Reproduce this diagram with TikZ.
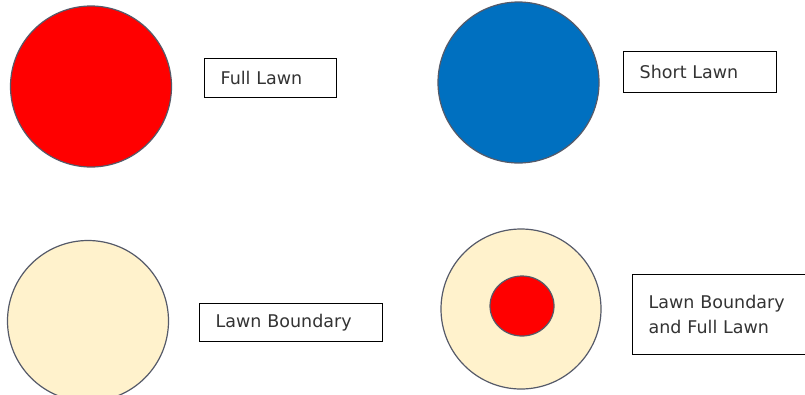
\documentclass[tikz,border=0pt]{standalone}
\usepackage{fontspec}
\setmainfont{DejaVu Sans}
\usetikzlibrary{shapes.geometric}
\definecolor{lawnred}{HTML}{FF0000}
\definecolor{lawnblue}{HTML}{0070C0}
\definecolor{lawnbeige}{HTML}{FFF2CC}
\definecolor{rimcol}{RGB}{85,90,105}
\tikzset{
  disc/.style={circle, draw=rimcol, line width=1.2pt, minimum size=#1, inner sep=0pt},
  labelbox/.style={draw=black, line width=1.3pt, anchor=north west, inner xsep=16pt, inner ysep=0pt,
    align=left, font=\fontsize{17.5}{25}\selectfont, text=black!80},
}
\begin{document}
\begin{tikzpicture}[x=1pt,y=-1pt]
\useasboundingbox (0,0) rectangle (805,394);
\fill[white] (0,0) rectangle (805,394);
% circles
\node[disc=161pt, fill=lawnred] (full) at (91,86.5) {};
\node[disc=161pt, fill=lawnblue] (short) at (518.5,82.5) {};
\node[disc=161pt, fill=lawnbeige] (bound) at (88,321) {};
\node[disc=160pt, fill=lawnbeige] (both) at (521,309) {};
\node[ellipse, draw=rimcol, line width=1.2pt, fill=lawnred, minimum width=64pt, minimum height=60pt, inner sep=0pt] (inner) at (522,306) {};
% label boxes
\node[labelbox, minimum height=39pt, text width=100pt] (lfull) at (204,58) {Full Lawn};
\node[labelbox, minimum height=41pt, text width=121pt] (lshort) at (623,51) {Short Lawn};
\node[labelbox, minimum height=38pt, text width=151pt] (lbound) at (199,303) {Lawn Boundary};
\node[labelbox, minimum height=80pt, text width=142pt] (lboth) at (632,274) {Lawn Boundary\\and Full Lawn};
\end{tikzpicture}
\end{document}
